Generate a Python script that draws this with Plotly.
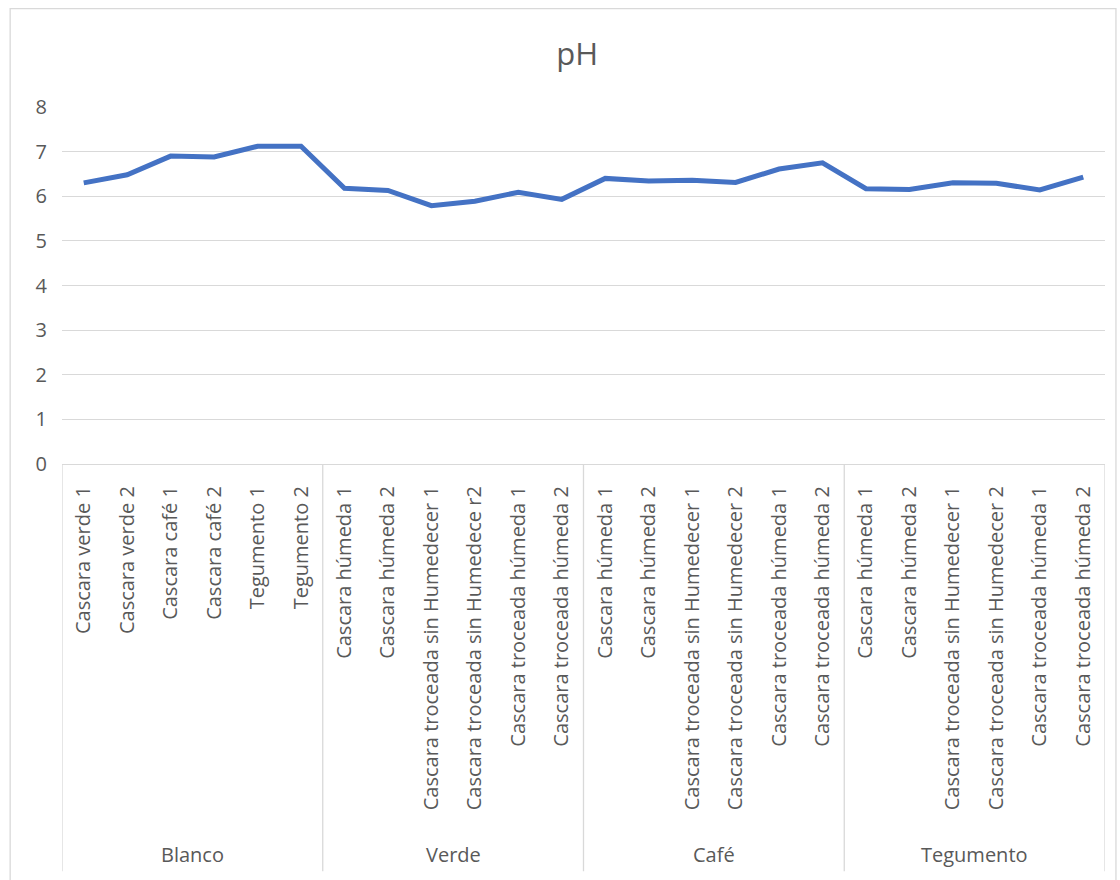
import plotly.graph_objects as go

# pH measurements, grouped by treatment
groups = ["Blanco"] * 6 + ["Verde"] * 6 + ["Café"] * 6 + ["Tegumento"] * 6
samples = [
    "Cascara verde 1", "Cascara verde 2", "Cascara café 1", "Cascara café 2",
    "Tegumento 1", "Tegumento 2",
    "Cascara húmeda 1", "Cascara húmeda 2",
    "Cascara troceada sin Humedecer 1", "Cascara troceada sin Humedece r2",
    "Cascara troceada húmeda 1", "Cascara troceada húmeda 2",
    "Cascara húmeda 1", "Cascara húmeda 2",
    "Cascara troceada sin Humedecer 1", "Cascara troceada sin Humedecer 2",
    "Cascara troceada húmeda 1", "Cascara troceada húmeda 2",
    "Cascara húmeda 1", "Cascara húmeda 2",
    "Cascara troceada sin Humedecer 1", "Cascara troceada sin Humedecer 2",
    "Cascara troceada húmeda 1", "Cascara troceada húmeda 2",
]
ph = [6.30, 6.48, 6.90, 6.88, 7.12, 7.12,
      6.18, 6.13, 5.79, 5.89, 6.09, 5.93,
      6.40, 6.34, 6.36, 6.31, 6.61, 6.75,
      6.17, 6.15, 6.30, 6.29, 6.14, 6.43]
y_ticks = [0, 1, 2, 3, 4, 5, 6, 7, 8]

FONT = "Open Sans"
GREY = "#595959"
LINE = "#d9d9d9"
LABEL_SIZE = 20

idx = list(range(len(ph)))

fig = go.Figure()
fig.add_trace(go.Scatter(
    x=idx, y=ph, mode="lines",
    line=dict(color="#4472C4", width=5, shape="linear"),
    hoverinfo="skip", showlegend=False,
))

# group boundaries and group labels on the category axis
group_names = []
bounds = [0]
for i, g in enumerate(groups):
    if not group_names or group_names[-1] != g:
        if group_names:
            bounds.append(i)
        group_names.append(g)
bounds.append(len(groups))

shapes = []
for b in bounds:
    shapes.append(dict(type="line", xref="x", yref="paper",
                       x0=b - 0.5, x1=b - 0.5, y0=0, y1=-1.141,
                       line=dict(color=LINE, width=1.3)))
annotations = []
for k, g in enumerate(group_names):
    annotations.append(dict(x=(bounds[k] + bounds[k + 1] - 1) / 2, y=-1.095,
                            xref="x", yref="paper", text=g, showarrow=False,
                            font=dict(family=FONT, size=LABEL_SIZE, color=GREY),
                            xanchor="center", yanchor="middle"))

# outer chart frame
shapes.append(dict(type="rect", xref="paper", yref="paper",
                   x0=-0.0497, x1=1.0105, y0=1.2755, y1=-1.19,
                   line=dict(color=LINE, width=1.3), fillcolor="rgba(0,0,0,0)",
                   layer="below"))

fig.update_layout(
    width=1120, height=880,
    margin=dict(l=62, r=15, t=107, b=416),
    paper_bgcolor="white", plot_bgcolor="white",
    title=dict(text="pH", x=0.494, xref="paper", xanchor="center",
               y=0.938, yanchor="middle",
               font=dict(family=FONT, size=31, color=GREY)),
    font=dict(family=FONT, color=GREY),
    xaxis=dict(
        range=[-0.5, len(ph) - 0.5],
        tickmode="array", tickvals=idx, ticktext=samples,
        tickangle=-90, tickfont=dict(family=FONT, size=LABEL_SIZE, color=GREY),
        showgrid=False, zeroline=False,
        showline=True, linecolor=LINE, linewidth=1.3,
        ticks="outside", ticklen=13, tickcolor="rgba(0,0,0,0)",
    ),
    yaxis=dict(
        range=[0, 8], tickmode="array", tickvals=y_ticks,
        tickfont=dict(family=FONT, size=LABEL_SIZE, color=GREY),
        showgrid=True, gridcolor=LINE, gridwidth=1.3,
        zeroline=False, showline=False,
        ticks="outside", ticklen=10, tickcolor="rgba(0,0,0,0)",
    ),
    shapes=shapes,
    annotations=annotations,
)

fig.write_html("out.html")
